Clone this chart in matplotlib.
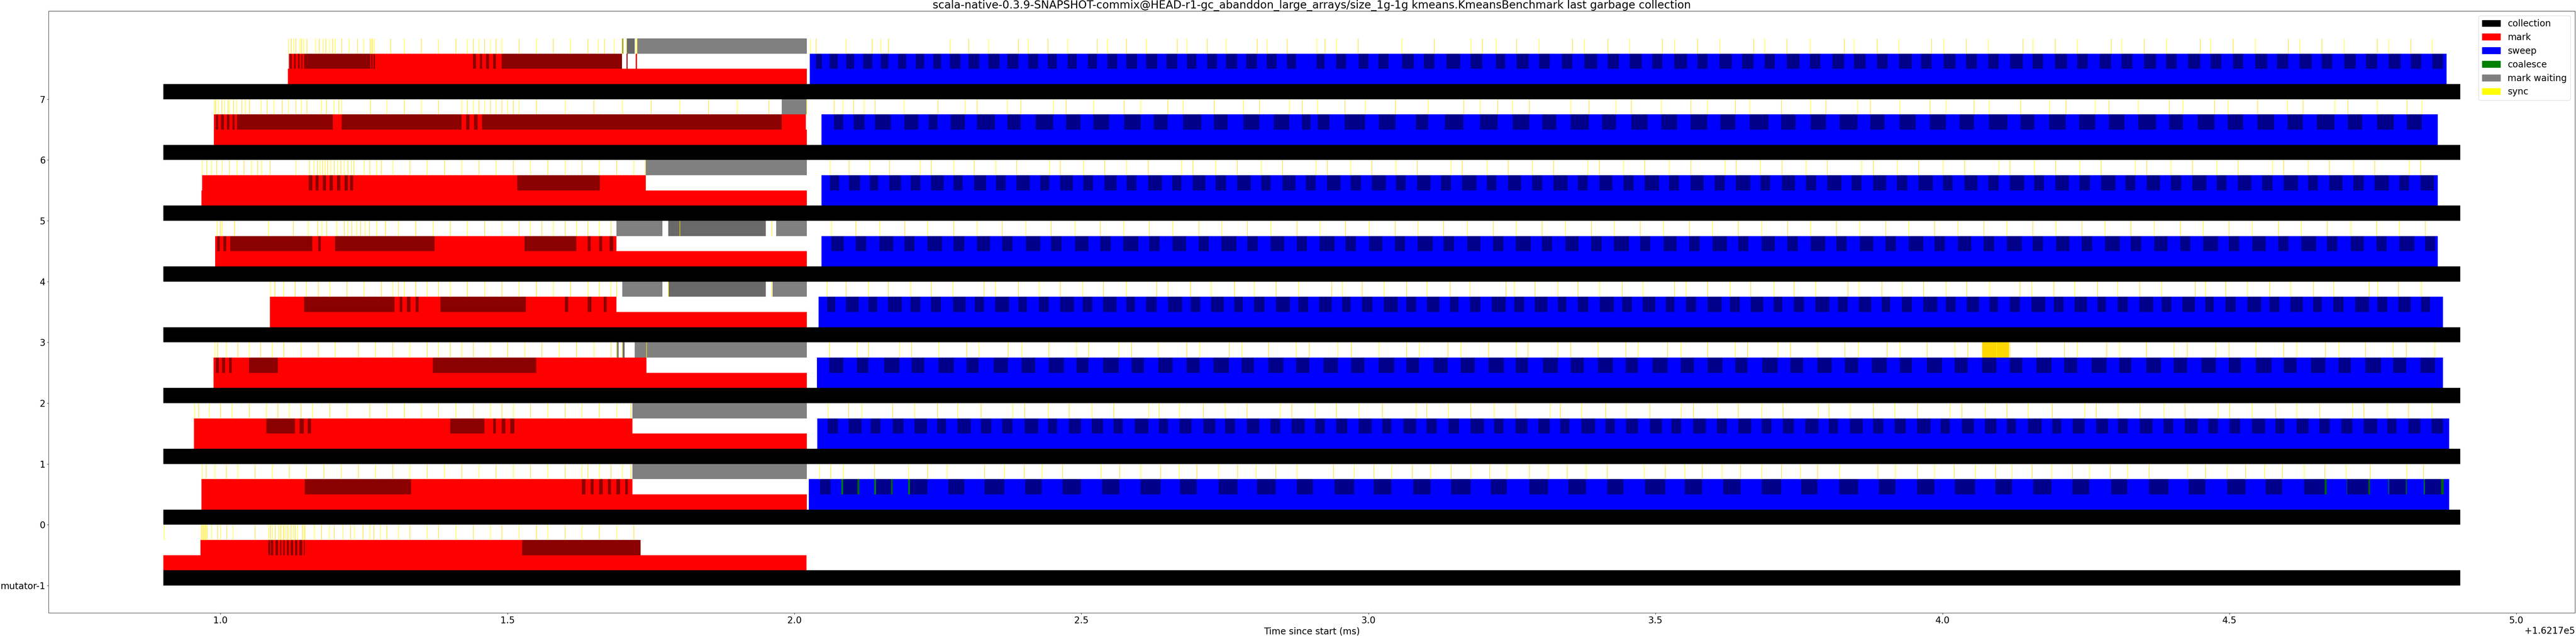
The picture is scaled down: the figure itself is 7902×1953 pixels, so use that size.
import matplotlib
matplotlib.use("Agg")
import matplotlib.pyplot as plt
from matplotlib.patches import Patch

plt.rcParams["font.family"] = "DejaVu Sans"
plt.rcParams["font.size"] = 20

TITLE = ("scala-native-0.3.9-SNAPSHOT-commix@HEAD-r1-gc_abanddon_large_arrays/"
         "size_1g-1g kmeans.KmeansBenchmark last garbage collection")
BASE = 162170.0  # ms; every time below is relative to this
THREADS = ["mutator-1", "0", "1", "2", "3", "4", "5", "6", "7"]

COLLECTION_START = 0.9006
COLLECTION_END = 4.9020
MARK_START = [0.9006, 0.967, 0.954, 0.988, 1.086, 0.991, 0.967, 0.9886, 1.1175]
MARK_END = [2.021, 2.0215, 2.0215, 2.0215, 2.0215, 2.0215, 2.0215, 2.0215, 2.0215]
SWEEP_START = [None, 2.0248, 2.040, 2.039, 2.042, 2.047, 2.047, 2.047, 2.0266]
SWEEP_END = [None, 4.883, 4.883, 4.872, 4.872, 4.863, 4.863, 4.863, 4.878]

# mark batches: red stretches, darkred batches drawn over them
MARK_RED = [
    [(0.9654, 1.732)],
    [(0.967, 1.718)],
    [(0.954, 1.718)],
    [(0.988, 1.742)],
    [(1.086, 1.69)],
    [(0.991, 1.69)],
    [(0.968, 1.741)],
    [(0.9886, 2.020)],
    [(1.119, 1.6995), (1.7234, 1.7256)],
]
MARK_DARK = [
    [(1.0832, 1.0866), (1.0880, 1.0920), (1.0960, 1.1006), (1.1036, 1.1062),
     (1.1093, 1.1123), (1.1158, 1.1192), (1.1223, 1.1266), (1.1301, 1.1340),
     (1.1375, 1.1427), (1.1453, 1.1471), (1.526, 1.732)],
    [(1.147, 1.332), (1.630, 1.636), (1.645, 1.650), (1.660, 1.666),
     (1.675, 1.680), (1.690, 1.696), (1.705, 1.710)],
    [(1.080, 1.130), (1.138, 1.145), (1.152, 1.158), (1.400, 1.460),
     (1.475, 1.480), (1.490, 1.496), (1.505, 1.512)],
    [(0.992, 0.997), (1.003, 1.008), (1.015, 1.020), (1.050, 1.100),
     (1.370, 1.550)],
    [(1.146, 1.303), (1.312, 1.317), (1.325, 1.331), (1.340, 1.345),
     (1.383, 1.532), (1.600, 1.606), (1.640, 1.646), (1.668, 1.673)],
    [(0.994, 0.999), (1.005, 1.010), (1.017, 1.160), (1.170, 1.175),
     (1.200, 1.373), (1.530, 1.620), (1.640, 1.645), (1.660, 1.665), (1.678, 1.684)],
    [(1.154, 1.160), (1.166, 1.171), (1.178, 1.184), (1.190, 1.196),
     (1.203, 1.209), (1.216, 1.222), (1.226, 1.231), (1.517, 1.661)],
    [(0.992, 0.996), (1.001, 1.006), (1.011, 1.016), (1.021, 1.025),
     (1.029, 1.196), (1.211, 1.420), (1.428, 1.434), (1.442, 1.448),
     (1.456, 1.978)],
    [(1.121, 1.124), (1.128, 1.131), (1.135, 1.138), (1.141, 1.143),
     (1.146, 1.261), (1.263, 1.265), (1.267, 1.269), (1.440, 1.445),
     (1.452, 1.456), (1.463, 1.468), (1.475, 1.480), (1.490, 1.6995),
     (1.7075, 1.709)],
]

# sweep batches: darkblue batches on the blue sweep stretch
SWEEP_DARK = [
    [],
    [(2.0447, 2.0629), (2.0845, 2.1094), (2.1424, 2.168), (2.201, 2.232),
     (2.268, 2.296), (2.331, 2.366), (2.402, 2.431), (2.467, 2.499),
     (2.536, 2.566), (2.603, 2.638), (2.672, 2.701), (2.739, 2.772),
     (2.806, 2.838), (2.875, 2.903), (2.941, 2.975), (3.009, 3.040),
     (3.078, 3.108), (3.144, 3.178), (3.213, 3.241), (3.280, 3.313),
     (3.348, 3.379), (3.416, 3.444), (3.482, 3.517), (3.551, 3.581),
     (3.618, 3.648), (3.685, 3.719), (3.754, 3.782), (3.820, 3.853),
     (3.889, 3.918), (3.956, 3.986), (4.022, 4.057), (4.092, 4.121),
     (4.158, 4.190), (4.226, 4.256), (4.294, 4.322), (4.360, 4.394),
     (4.429, 4.458), (4.496, 4.528), (4.563, 4.592), (4.630, 4.666),
     (4.7053, 4.7422), (4.7786, 4.8070), (4.8410, 4.8688)],
    [(2.058, 2.076), (2.094, 2.117), (2.133, 2.150), (2.171, 2.190),
     (2.209, 2.231), (2.249, 2.264), (2.284, 2.307), (2.325, 2.343),
     (2.362, 2.380), (2.401, 2.425), (2.442, 2.458), (2.478, 2.499),
     (2.518, 2.538), (2.556, 2.572), (2.593, 2.617), (2.635, 2.651),
     (2.671, 2.692), (2.712, 2.733), (2.750, 2.767), (2.788, 2.810),
     (2.829, 2.846), (2.866, 2.889), (2.907, 2.924), (2.944, 2.963),
     (2.983, 3.006), (3.024, 3.040), (3.061, 3.083), (3.101, 3.119),
     (3.139, 3.158), (3.178, 3.201), (3.219, 3.235), (3.256, 3.277),
     (3.296, 3.316), (3.334, 3.350), (3.371, 3.395), (3.413, 3.429),
     (3.449, 3.470), (3.490, 3.511), (3.528, 3.545), (3.566, 3.588),
     (3.607, 3.624), (3.644, 3.667), (3.685, 3.702), (3.722, 3.741),
     (3.761, 3.784), (3.802, 3.818), (3.839, 3.861), (3.879, 3.897),
     (3.917, 3.936), (3.956, 3.979), (3.997, 4.013), (4.034, 4.055),
     (4.074, 4.094), (4.112, 4.128), (4.149, 4.173), (4.191, 4.207),
     (4.227, 4.248), (4.268, 4.289), (4.306, 4.323), (4.344, 4.366),
     (4.385, 4.402), (4.422, 4.445), (4.463, 4.480), (4.500, 4.519),
     (4.539, 4.562), (4.580, 4.596), (4.617, 4.638), (4.657, 4.675),
     (4.695, 4.714), (4.734, 4.757), (4.775, 4.791), (4.812, 4.833),
     (4.852, 4.872)],
    [(2.061, 2.085), (2.109, 2.129), (2.156, 2.183), (2.204, 2.226),
     (2.251, 2.278), (2.300, 2.321), (2.347, 2.372), (2.396, 2.419),
     (2.443, 2.469), (2.491, 2.512), (2.538, 2.565), (2.587, 2.609),
     (2.634, 2.659), (2.683, 2.706), (2.730, 2.757), (2.779, 2.800),
     (2.826, 2.852), (2.874, 2.897), (2.922, 2.947), (2.970, 2.993),
     (3.018, 3.045), (3.066, 3.088), (3.113, 3.138), (3.161, 3.185),
     (3.209, 3.236), (3.257, 3.278), (3.304, 3.330), (3.352, 3.375),
     (3.400, 3.426), (3.448, 3.469), (3.495, 3.521), (3.544, 3.567),
     (3.591, 3.617), (3.639, 3.660), (3.686, 3.713), (3.735, 3.757),
     (3.782, 3.807), (3.830, 3.853), (3.877, 3.903), (3.926, 3.947),
     (3.973, 3.999), (4.021, 4.044), (4.069, 4.094), (4.117, 4.139),
     (4.164, 4.190), (4.212, 4.235), (4.260, 4.286), (4.308, 4.329),
     (4.355, 4.381), (4.403, 4.426), (4.451, 4.476), (4.499, 4.520),
     (4.546, 4.573), (4.594, 4.617), (4.642, 4.667), (4.690, 4.711),
     (4.737, 4.764), (4.785, 4.808), (4.833, 4.858)],
    [(2.057, 2.071), (2.090, 2.112), (2.129, 2.144), (2.163, 2.187),
     (2.202, 2.219), (2.238, 2.255), (2.276, 2.298), (2.314, 2.330),
     (2.350, 2.374), (2.390, 2.405), (2.426, 2.443), (2.463, 2.487),
     (2.502, 2.519), (2.538, 2.561), (2.578, 2.593), (2.613, 2.631),
     (2.651, 2.675), (2.690, 2.707), (2.726, 2.748), (2.766, 2.781),
     (2.801, 2.819), (2.839, 2.863), (2.878, 2.895), (2.914, 2.936),
     (2.954, 2.969), (2.989, 3.007), (3.027, 3.051), (3.066, 3.083),
     (3.102, 3.124), (3.142, 3.157), (3.177, 3.195), (3.215, 3.239),
     (3.254, 3.271), (3.290, 3.312), (3.330, 3.345), (3.365, 3.383),
     (3.403, 3.427), (3.442, 3.459), (3.478, 3.500), (3.518, 3.533),
     (3.553, 3.571), (3.591, 3.615), (3.630, 3.647), (3.666, 3.688),
     (3.706, 3.721), (3.741, 3.759), (3.779, 3.803), (3.818, 3.835),
     (3.854, 3.876), (3.894, 3.909), (3.929, 3.947), (3.967, 3.991),
     (4.006, 4.023), (4.042, 4.064), (4.082, 4.097), (4.117, 4.135),
     (4.155, 4.179), (4.194, 4.211), (4.230, 4.252), (4.270, 4.285),
     (4.305, 4.323), (4.343, 4.367), (4.382, 4.399), (4.418, 4.440),
     (4.458, 4.473), (4.493, 4.511), (4.531, 4.555), (4.570, 4.587),
     (4.606, 4.628), (4.646, 4.661), (4.681, 4.699), (4.719, 4.743),
     (4.758, 4.775), (4.794, 4.816), (4.834, 4.849)],
    [(2.064, 2.086), (2.107, 2.125), (2.148, 2.172), (2.192, 2.209),
     (2.232, 2.257), (2.277, 2.296), (2.318, 2.341), (2.362, 2.380),
     (2.403, 2.428), (2.447, 2.465), (2.489, 2.512), (2.533, 2.551),
     (2.573, 2.599), (2.618, 2.636), (2.659, 2.682), (2.704, 2.722),
     (2.744, 2.770), (2.789, 2.807), (2.830, 2.853), (2.875, 2.893),
     (2.915, 2.941), (2.960, 2.978), (3.001, 3.024), (3.046, 3.064),
     (3.086, 3.112), (3.131, 3.149), (3.172, 3.195), (3.217, 3.235),
     (3.257, 3.283), (3.302, 3.320), (3.343, 3.366), (3.388, 3.406),
     (3.428, 3.454), (3.473, 3.491), (3.514, 3.537), (3.559, 3.577),
     (3.599, 3.625), (3.644, 3.662), (3.685, 3.708), (3.730, 3.748),
     (3.770, 3.796), (3.815, 3.833), (3.856, 3.879), (3.901, 3.919),
     (3.941, 3.967), (3.986, 4.004), (4.027, 4.050), (4.072, 4.090),
     (4.112, 4.138), (4.157, 4.175), (4.198, 4.221), (4.243, 4.261),
     (4.283, 4.309), (4.328, 4.346), (4.369, 4.392), (4.414, 4.432),
     (4.454, 4.480), (4.499, 4.517), (4.540, 4.563), (4.585, 4.603),
     (4.625, 4.651), (4.670, 4.688), (4.711, 4.734), (4.756, 4.774),
     (4.796, 4.822), (4.841, 4.858)],
    [(2.062, 2.078), (2.095, 2.114), (2.131, 2.146), (2.165, 2.186),
     (2.203, 2.219), (2.238, 2.260), (2.277, 2.293), (2.313, 2.334),
     (2.351, 2.368), (2.387, 2.410), (2.428, 2.444), (2.463, 2.485),
     (2.503, 2.520), (2.540, 2.561), (2.579, 2.596), (2.616, 2.640),
     (2.658, 2.674), (2.694, 2.716), (2.734, 2.752), (2.771, 2.795),
     (2.813, 2.830), (2.850, 2.873), (2.891, 2.908), (2.928, 2.951),
     (2.969, 2.987), (3.006, 3.030), (3.048, 3.065), (3.085, 3.108),
     (3.126, 3.144), (3.163, 3.188), (3.206, 3.223), (3.243, 3.266),
     (3.285, 3.303), (3.322, 3.347), (3.365, 3.382), (3.402, 3.425),
     (3.444, 3.462), (3.481, 3.506), (3.524, 3.541), (3.561, 3.584),
     (3.603, 3.621), (3.640, 3.665), (3.683, 3.700), (3.720, 3.743),
     (3.762, 3.780), (3.799, 3.824), (3.842, 3.859), (3.879, 3.902),
     (3.921, 3.939), (3.958, 3.983), (4.001, 4.018), (4.038, 4.061),
     (4.080, 4.098), (4.117, 4.142), (4.160, 4.177), (4.197, 4.220),
     (4.239, 4.257), (4.276, 4.301), (4.319, 4.336), (4.356, 4.379),
     (4.398, 4.416), (4.435, 4.460), (4.478, 4.495), (4.515, 4.538),
     (4.557, 4.575), (4.594, 4.619), (4.637, 4.654), (4.674, 4.697),
     (4.716, 4.734), (4.753, 4.778), (4.796, 4.813), (4.833, 4.856)],
    [(2.0687, 2.0850), (2.1035, 2.1220), (2.1404, 2.1680), (2.1915, 2.2158),
     (2.2341, 2.2495), (2.272, 2.297), (2.318, 2.349), (2.371, 2.394),
     (2.420, 2.451), (2.473, 2.498), (2.521, 2.548), (2.574, 2.603),
     (2.626, 2.650), (2.677, 2.709), (2.731, 2.755), (2.782, 2.810),
     (2.835, 2.862), (2.884, 2.899), (2.9114, 2.9322), (2.9587, 2.9939),
     (3.0181, 3.0470), (3.0824, 3.1041), (3.1328, 3.1656), (3.1943, 3.2251),
     (3.251, 3.280), (3.303, 3.327), (3.352, 3.384), (3.407, 3.431),
     (3.458, 3.486), (3.510, 3.538), (3.561, 3.590), (3.613, 3.639),
     (3.664, 3.697), (3.719, 3.744), (3.770, 3.797), (3.821, 3.852),
     (3.874, 3.899), (3.925, 3.953), (3.978, 4.006), (4.030, 4.055),
     (4.081, 4.113), (4.136, 4.160), (4.186, 4.215), (4.238, 4.266),
     (4.290, 4.317), (4.341, 4.372), (4.395, 4.419), (4.445, 4.474),
     (4.497, 4.524), (4.549, 4.578), (4.601, 4.628), (4.652, 4.683),
     (4.706, 4.731), (4.757, 4.786), (4.809, 4.835)],
    [(2.0375, 2.0477), (2.0611, 2.0753), (2.0902, 2.1039), (2.1198, 2.1357),
     (2.1506, 2.1635), (2.1806, 2.1948), (2.2111, 2.2258), (2.2419, 2.2556),
     (2.271, 2.289), (2.303, 2.322), (2.338, 2.357), (2.371, 2.390),
     (2.407, 2.424), (2.441, 2.457), (2.476, 2.492), (2.511, 2.527),
     (2.545, 2.562), (2.578, 2.597), (2.613, 2.632), (2.648, 2.667),
     (2.684, 2.700), (2.719, 2.736), (2.752, 2.771), (2.787, 2.806),
     (2.823, 2.840), (2.858, 2.874), (2.9101, 2.9236), (2.9440, 2.9608),
     (2.9829, 2.9998), (3.0173, 3.0350), (3.0585, 3.0789), (3.0965, 3.1146),
     (3.1359, 3.1598), (3.1780, 3.1982), (3.2224, 3.238), (3.258, 3.279),
     (3.297, 3.316), (3.337, 3.355), (3.376, 3.398), (3.417, 3.436),
     (3.455, 3.476), (3.494, 3.512), (3.533, 3.555), (3.573, 3.591),
     (3.612, 3.633), (3.651, 3.671), (3.690, 3.708), (3.729, 3.751),
     (3.769, 3.787), (3.808, 3.829), (3.846, 3.866), (3.886, 3.904),
     (3.924, 3.946), (3.963, 3.981), (4.002, 4.023), (4.041, 4.060),
     (4.080, 4.098), (4.118, 4.140), (4.157, 4.175), (4.196, 4.217),
     (4.235, 4.253), (4.274, 4.294), (4.312, 4.331), (4.351, 4.372),
     (4.390, 4.408), (4.428, 4.449), (4.467, 4.486), (4.506, 4.524),
     (4.545, 4.566), (4.583, 4.602), (4.622, 4.643), (4.661, 4.679),
     (4.700, 4.720), (4.738, 4.757), (4.777, 4.798), (4.816, 4.834),
     (4.853, 4.872)],
]

COALESCE = [
    [],
    [(2.0817, 2.0845), (2.1094, 2.1129), (2.1390, 2.1418), (2.168, 2.171),
     (2.198, 2.201), (4.666, 4.669), (4.7042, 4.7053), (4.7422, 4.7445),
     (4.7763, 4.7780), (4.8070, 4.8092), (4.8387, 4.8404), (4.8688, 4.8734)],
    [], [], [], [], [], [], [],
]

MARK_WAIT = [
    [],
    [(1.718, 2.0215)],
    [(1.718, 2.0215)],
    [(1.690, 1.694), (1.700, 1.704), (1.722, 2.0215)],
    [(1.700, 1.770), (1.780, 1.950), (1.962, 2.0215)],
    [(1.690, 1.770), (1.780, 1.950), (1.968, 2.0215)],
    [(1.741, 2.0215)],
    [(1.978, 2.0215)],
    [(1.700, 1.702), (1.7083, 1.7219), (1.7265, 2.0215)],
]

SYNC = [
    [0.9016, 0.9663, 0.9680, 0.9698, 0.9716, 0.9733, 0.9750, 0.9767, 0.9841,
     0.9950, 0.9998, 1.0106, 1.0215, 1.0602, 1.0840, 1.0866, 1.0906, 1.0953,
     1.1006, 1.1036, 1.1062, 1.1093, 1.1123, 1.1158, 1.1192, 1.1223, 1.1266,
     1.1301, 1.1340, 1.1427, 1.1453, 1.1470, 1.1635, 1.1757, 1.1897, 1.1983,
     1.2135, 1.2266, 1.2331, 1.2483, 1.2600, 1.2669, 1.2779, 1.2896, 1.31,
     1.33, 1.36, 1.38, 1.41, 1.44, 1.47, 1.49, 1.52, 1.55, 1.57, 1.60, 1.63,
     1.66, 1.69, 1.72],
    [0.968, 0.975, 0.99, 1.01, 1.03, 1.06, 1.09, 1.12, 1.15, 1.18, 1.21, 1.24,
     1.27, 1.30, 1.33, 1.36, 1.39, 1.42, 1.45, 1.48, 1.51, 1.54, 1.57, 1.60,
     1.63, 1.64, 1.66, 1.68, 1.70, 1.715,
     2.0436, 2.0629, 2.0845, 2.1390, 2.198, 2.232, 2.266, 2.331, 2.366, 2.400,
     2.431, 2.467, 2.534, 2.566, 2.603, 2.638, 2.670, 2.701, 2.739, 2.772,
     2.804, 2.838, 2.875, 2.939, 2.975, 3.009, 3.040, 3.076, 3.108, 3.144,
     3.178, 3.211, 3.241, 3.280, 3.313, 3.346, 3.379, 3.416, 3.480, 3.517,
     3.551, 3.581, 3.616, 3.648, 3.685, 3.719, 3.752, 3.782, 3.820, 3.887,
     3.918, 3.956, 3.986, 4.020, 4.057, 4.092, 4.121, 4.156, 4.190, 4.226,
     4.256, 4.292, 4.322, 4.360, 4.427, 4.458, 4.496, 4.528, 4.561, 4.592,
     4.630, 4.666, 4.703, 4.7445, 4.8092, 4.8381],
    [0.955, 0.962, 0.98, 1.00, 1.02, 1.05, 1.08, 1.10, 1.12, 1.14, 1.16, 1.19,
     1.22, 1.26, 1.29, 1.32, 1.35, 1.38, 1.41, 1.44, 1.47, 1.49, 1.51, 1.54,
     1.57, 1.60, 1.63, 1.66, 1.69, 1.715,
     2.058, 2.094, 2.117, 2.171, 2.209, 2.249, 2.284, 2.325, 2.380, 2.401,
     2.442, 2.478, 2.518, 2.556, 2.617, 2.635, 2.671, 2.712, 2.750, 2.788,
     2.846, 2.866, 2.907, 2.944, 2.983, 3.024, 3.083, 3.101, 3.139, 3.178,
     3.219, 3.256, 3.316, 3.334, 3.371, 3.413, 3.449, 3.490, 3.545, 3.566,
     3.607, 3.644, 3.685, 3.722, 3.784, 3.802, 3.839, 3.879, 3.917, 3.956,
     4.013, 4.034, 4.074, 4.112, 4.149, 4.191, 4.248, 4.268, 4.306, 4.344,
     4.385, 4.422, 4.480, 4.500, 4.539, 4.580, 4.617, 4.657, 4.714, 4.734,
     4.775, 4.812, 4.852],
    [0.99, 0.995, 1.01, 1.03, 1.05, 1.07, 1.09, 1.11, 1.14, 1.17, 1.20, 1.24,
     1.27, 1.30, 1.33, 1.36, 1.38, 1.40, 1.42, 1.44, 1.47, 1.50, 1.53, 1.56,
     1.59, 1.62, 1.65, 1.68, 1.69, 1.70, 1.742,
     2.061, 2.109, 2.129, 2.183, 2.204, 2.251, 2.300, 2.321, 2.372, 2.396,
     2.443, 2.491, 2.512, 2.565, 2.587, 2.634, 2.683, 2.706, 2.757, 2.779,
     2.826, 2.874, 2.897, 2.947, 2.970, 3.018, 3.066, 3.088, 3.138, 3.161,
     3.209, 3.257, 3.278, 3.330, 3.352, 3.400, 3.448, 3.469, 3.521, 3.544,
     3.591, 3.639, 3.660, 3.713, 3.735, 3.782, 3.830, 3.853, 3.903, 3.926,
     3.973, 4.021, 4.044, 4.094, 4.117, 4.164, 4.212, 4.235, 4.286, 4.308,
     4.355, 4.403, 4.426, 4.476, 4.499, 4.546, 4.594, 4.617, 4.667, 4.690,
     4.737, 4.785, 4.808, 4.858],
    [1.087, 1.095, 1.11, 1.13, 1.15, 1.17, 1.19, 1.22, 1.25, 1.28, 1.30, 1.31,
     1.32, 1.34, 1.36, 1.38, 1.40, 1.43, 1.46, 1.49, 1.52, 1.55, 1.58, 1.61,
     1.64, 1.66, 1.68, 1.69, 1.78, 1.96,
     2.057, 2.090, 2.129, 2.163, 2.202, 2.238, 2.276, 2.330, 2.350, 2.390,
     2.426, 2.463, 2.502, 2.538, 2.578, 2.631, 2.651, 2.690, 2.726, 2.766,
     2.801, 2.839, 2.878, 2.936, 2.954, 2.989, 3.027, 3.066, 3.102, 3.142,
     3.177, 3.239, 3.254, 3.290, 3.330, 3.365, 3.403, 3.442, 3.478, 3.533,
     3.553, 3.591, 3.630, 3.666, 3.706, 3.741, 3.779, 3.835, 3.854, 3.894,
     3.929, 3.967, 4.006, 4.042, 4.082, 4.135, 4.155, 4.194, 4.230, 4.270,
     4.305, 4.343, 4.382, 4.440, 4.458, 4.493, 4.531, 4.570, 4.606, 4.646,
     4.681, 4.743, 4.758, 4.794, 4.834],
    [0.9941, 0.9993, 1.0028, 1.0245, 1.0832, 1.1266, 1.1527, 1.1692, 1.1766,
     1.1853, 1.2027, 1.2157, 1.2222, 1.2288, 1.2375, 1.2440, 1.2514, 1.2592,
     1.2722, 1.2874, 1.31, 1.34, 1.37, 1.40, 1.43, 1.46, 1.49, 1.52, 1.54,
     1.56, 1.58, 1.60, 1.62, 1.64, 1.66, 1.68, 1.80, 1.96,
     2.064, 2.107, 2.148, 2.192, 2.232, 2.277, 2.318, 2.362, 2.403, 2.447,
     2.489, 2.533, 2.573, 2.618, 2.659, 2.704, 2.744, 2.789, 2.830, 2.875,
     2.915, 2.960, 3.001, 3.046, 3.086, 3.131, 3.172, 3.217, 3.257, 3.302,
     3.343, 3.388, 3.428, 3.473, 3.514, 3.559, 3.599, 3.644, 3.685, 3.730,
     3.770, 3.815, 3.856, 3.901, 3.941, 3.986, 4.027, 4.072, 4.112, 4.157,
     4.198, 4.243, 4.283, 4.328, 4.369, 4.414, 4.454, 4.499, 4.540, 4.585,
     4.625, 4.670, 4.711, 4.756, 4.796, 4.841],
    [0.9680, 0.9759, 0.9841, 0.9932, 1.0028, 1.0150, 1.0289, 1.0410, 1.0540,
     1.0649, 1.0714, 1.0861, 1.1310, 1.1548, 1.1627, 1.1687, 1.1731, 1.1774,
     1.1822, 1.1861, 1.1918, 1.1983, 1.2035, 1.2092, 1.2157, 1.2222, 1.2279,
     1.2322, 1.2505, 1.2600, 1.2722, 1.2800, 1.30, 1.33, 1.36, 1.39, 1.42,
     1.45, 1.48, 1.51, 1.54, 1.57, 1.60, 1.63, 1.66, 1.69, 1.72, 1.74,
     2.062, 2.095, 2.131, 2.165, 2.219, 2.238, 2.277, 2.313, 2.351, 2.387,
     2.444, 2.463, 2.503, 2.540, 2.579, 2.616, 2.674, 2.694, 2.734, 2.771,
     2.813, 2.850, 2.908, 2.928, 2.969, 3.006, 3.048, 3.085, 3.144, 3.163,
     3.206, 3.243, 3.285, 3.322, 3.382, 3.402, 3.444, 3.481, 3.524, 3.561,
     3.621, 3.640, 3.683, 3.720, 3.762, 3.799, 3.859, 3.879, 3.921, 3.958,
     4.001, 4.038, 4.098, 4.117, 4.160, 4.197, 4.239, 4.276, 4.336, 4.356,
     4.398, 4.435, 4.478, 4.515, 4.575, 4.594, 4.637, 4.674, 4.716, 4.753,
     4.813, 4.833],
    [0.9889, 0.9911, 0.9963, 1.0019, 1.0071, 1.0128, 1.0150, 1.0224, 1.0280,
     1.0367, 1.0432, 1.0506, 1.0711, 1.0811, 1.0932, 1.1071, 1.1179, 1.1310,
     1.1409, 1.1505, 1.1757, 1.1844, 1.1974, 1.2061, 1.2114, 1.2613, 1.29,
     1.32, 1.35, 1.38, 1.42, 1.43, 1.44, 1.45, 1.46, 1.47, 1.48, 1.49, 1.50,
     1.51, 1.52, 1.55, 1.60, 1.65, 1.70, 1.75, 1.80, 1.85, 1.90, 1.955, 2.021,
     2.069, 2.084, 2.103, 2.121, 2.140, 2.191, 2.250, 2.297, 2.318, 2.371,
     2.394, 2.451, 2.473, 2.521, 2.574, 2.603, 2.650, 2.677, 2.731, 2.782,
     2.810, 2.862, 2.884, 2.9112, 2.9585, 2.9939, 3.0465, 3.1043, 3.1658,
     3.1941, 3.2251, 3.251, 3.280, 3.352, 3.384, 3.431, 3.458, 3.510, 3.561,
     3.590, 3.639, 3.664, 3.719, 3.770, 3.797, 3.852, 3.874, 3.925, 3.978,
     4.006, 4.055, 4.081, 4.136, 4.186, 4.215, 4.266, 4.290, 4.341, 4.395,
     4.419, 4.474, 4.497, 4.549, 4.601, 4.628, 4.683, 4.706, 4.757, 4.809,
     4.835],
    [1.1179, 1.1231, 1.1274, 1.1310, 1.1387, 1.1414, 1.1448, 1.1505, 1.1657,
     1.1722, 1.1788, 1.1831, 1.1896, 1.1953, 1.1997, 1.2114, 1.2240, 1.2383,
     1.2492, 1.2605, 1.2627, 1.2648, 1.2678, 1.2961, 1.32, 1.35, 1.38, 1.41,
     1.43, 1.44, 1.45, 1.46, 1.47, 1.48, 1.49, 1.52, 1.55, 1.58, 1.61, 1.64,
     1.658, 1.669, 1.6854, 1.699, 1.7018, 1.707, 1.7236, 1.7256,
     2.027, 2.0377, 2.0898, 2.1352, 2.150, 2.1637, 2.271, 2.303, 2.338, 2.390,
     2.407, 2.441, 2.476, 2.527, 2.545, 2.578, 2.613, 2.667, 2.684, 2.719,
     2.752, 2.806, 2.823, 2.858, 2.9097, 2.9238, 2.9438, 2.9822, 3.0579,
     3.1141, 3.1782, 3.1981, 3.2220, 3.258, 3.297, 3.355, 3.376, 3.417,
     3.455, 3.512, 3.533, 3.573, 3.612, 3.671, 3.690, 3.729, 3.769, 3.829,
     3.846, 3.886, 3.924, 3.981, 4.002, 4.041, 4.080, 4.140, 4.157, 4.196,
     4.235, 4.294, 4.312, 4.351, 4.390, 4.449, 4.467, 4.506, 4.545, 4.602,
     4.622, 4.661, 4.700, 4.757, 4.777, 4.816, 4.853],
]
SYNC_LONG = [(3, 4.0689, 4.1161)]  # (row, start, end)

LEGEND_LABELS = ["collection", "mark", "sweep", "coalesce", "mark waiting", "sync"]
LEGEND_COLORS = ["black", "red", "blue", "green", "grey", "yellow"]

H = 0.25  # height of one lane


def spans_of(pairs):
    return [(BASE + a, b - a) for a, b in pairs]


def alt(n, colors):
    return [colors[k % 2] for k in range(n)]


fig = plt.figure(figsize=(79.02, 19.53), dpi=100)
ax = fig.add_axes([149 / 7902, 1 - 1882 / 1953, (7899 - 149) / 7902, (1882 - 34) / 1953])

for i, name in enumerate(THREADS):
    y = float(i)
    # lane 0: whole collection
    ax.broken_barh(spans_of([(COLLECTION_START, COLLECTION_END)]), (y, H),
                   facecolors="black")
    # lane 1: phases
    ax.broken_barh(spans_of([(MARK_START[i], MARK_END[i])]), (y + H, H), facecolors="red")
    if SWEEP_START[i] is not None:
        ax.broken_barh(spans_of([(SWEEP_START[i], SWEEP_END[i])]), (y + H, H),
                       facecolors="blue")
    # lane 2: batches
    ax.broken_barh(spans_of(MARK_RED[i]), (y + 2 * H, H), facecolors="red")
    if MARK_DARK[i]:
        ax.broken_barh(spans_of(MARK_DARK[i]), (y + 2 * H, H), facecolors="darkred")
    if SWEEP_START[i] is not None:
        ax.broken_barh(spans_of([(SWEEP_START[i], SWEEP_END[i])]), (y + 2 * H, H),
                       facecolors="blue")
    if SWEEP_DARK[i]:
        ax.broken_barh(spans_of(SWEEP_DARK[i]), (y + 2 * H, H), facecolors="darkblue")
    if COALESCE[i]:
        ax.broken_barh(spans_of(COALESCE[i]), (y + 2 * H, H),
                       facecolors=alt(len(COALESCE[i]), ["green", "darkgreen"]))
    # lane 3: waiting and sync
    if MARK_WAIT[i]:
        ax.broken_barh(spans_of(MARK_WAIT[i]), (y + 3 * H, H),
                       facecolors=alt(len(MARK_WAIT[i]), ["grey", "dimgrey"]))
    if SYNC[i]:
        ax.vlines([BASE + t for t in SYNC[i]], y + 3 * H, y + 4 * H,
                  colors=alt(len(SYNC[i]), ["yellow", "gold"]), linewidth=1.0)

for row, a, b in SYNC_LONG:
    ax.broken_barh(spans_of([(a, b)]), (row + 3 * H, H), facecolors="gold")

ax.set_xlim(BASE + COLLECTION_START - 0.2, BASE + COLLECTION_END + 0.2)
ax.set_ylim(-0.45, len(THREADS) + 0.45)
ax.set_yticks(range(len(THREADS)))
ax.set_yticklabels(THREADS)
ax.set_xlabel("Time since start (ms)")
ax.set_title(TITLE)
ax.legend(handles=[Patch(color=c, label=l) for c, l in zip(LEGEND_COLORS, LEGEND_LABELS)],
          loc="upper right")

fig.savefig("out.png", dpi=100)
